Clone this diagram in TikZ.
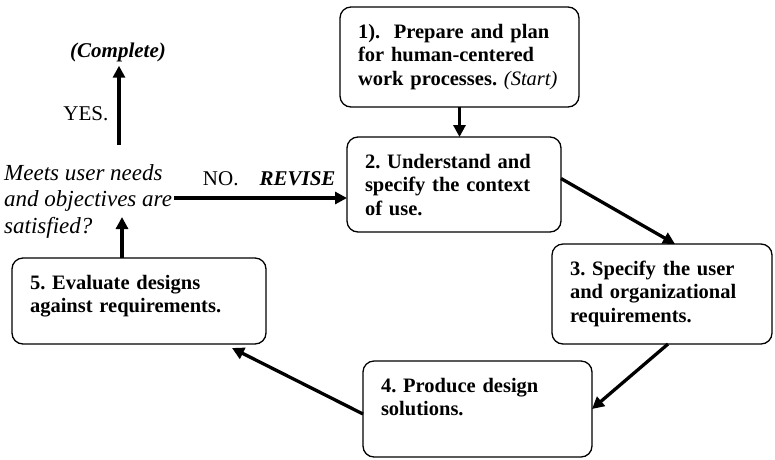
\documentclass[tikz,border=0pt]{standalone}
\usepackage{fontspec}
\setmainfont{Liberation Serif}
\frenchspacing
\usetikzlibrary{arrows.meta,positioning,calc}
\tikzset{
	stepbox/.style={draw, line width=1.3pt, rounded corners=11pt, anchor=north west, outer sep=0pt, align=left, inner xsep=18pt, inner ysep=15pt, text height=16pt, font=\fontsize{20.5}{23.5}\selectfont\bfseries},
	flow/.style={-{Triangle[width=12pt,length=12pt]}, line width=3.3pt},
	note/.style={inner sep=0pt, font=\fontsize{21}{24}\selectfont},
	question/.style={inner ysep=0pt, inner xsep=2pt, align=left, font=\fontsize{23}{26.5}\selectfont\itshape}
}
\begin{document}
\begin{tikzpicture}[x=1pt, y=-1pt]
\useasboundingbox (0,0) rectangle (775,459);

% the five steps
\node[stepbox, text width=203pt, text depth=54pt] (S1) at (340,7) {1).\ \ Prepare and plan\\for human-centered\\work processes. {\mdseries\itshape (Start)}};
\node[stepbox, text width=178pt, text depth=49pt] (S2) at (347,137) {2. Understand and\\specify the context\\of use.};
\node[stepbox, text width=184pt, text depth=54pt] (S3) at (552,244) {3. Specify the user\\and organizational\\requirements.};
\node[stepbox, text width=193pt, text depth=50pt] (S4) at (363,361) {4. Produce design\\solutions.};
\node[stepbox, text width=218pt, text depth=40pt] (S5) at (12,258) {5. Evaluate designs\\against requirements.};

% decision
\node[question, anchor=west] (Q) at (2,201) {Meets user needs\\and objectives are\\satisfied?};
\node[note, inner sep=4pt] (C) at (118,52) {\textbf{\textit{(Complete)}}};
\coordinate (yesfoot) at (119,145);
\coordinate (qfoot) at (122,217);

\draw[flow] (S1.south) -- (S1.south |- S2.north);
\draw[flow] ([yshift=6pt]S2.east) -- ([xshift=13pt]S3.north);
\draw[flow] ([xshift=6pt]S3.south) -- (S4.east);
\draw[flow] ([yshift=-5pt]S4.west) -- ([xshift=-34pt,yshift=-4pt]S5.south east);
\draw[flow] (S5.north -| qfoot) -- (qfoot);
\draw[flow] ([yshift=3pt]Q.east) -- ([yshift=3pt]Q.east -| S2.west)
    node[note, above=11pt, pos=0.55] {NO.\quad\textbf{\textit{REVISE}}};
\draw[flow] (yesfoot) -- (yesfoot |- C.south)
    node[note, left=9pt, pos=0.4] {YES.};
\end{tikzpicture}
\end{document}
